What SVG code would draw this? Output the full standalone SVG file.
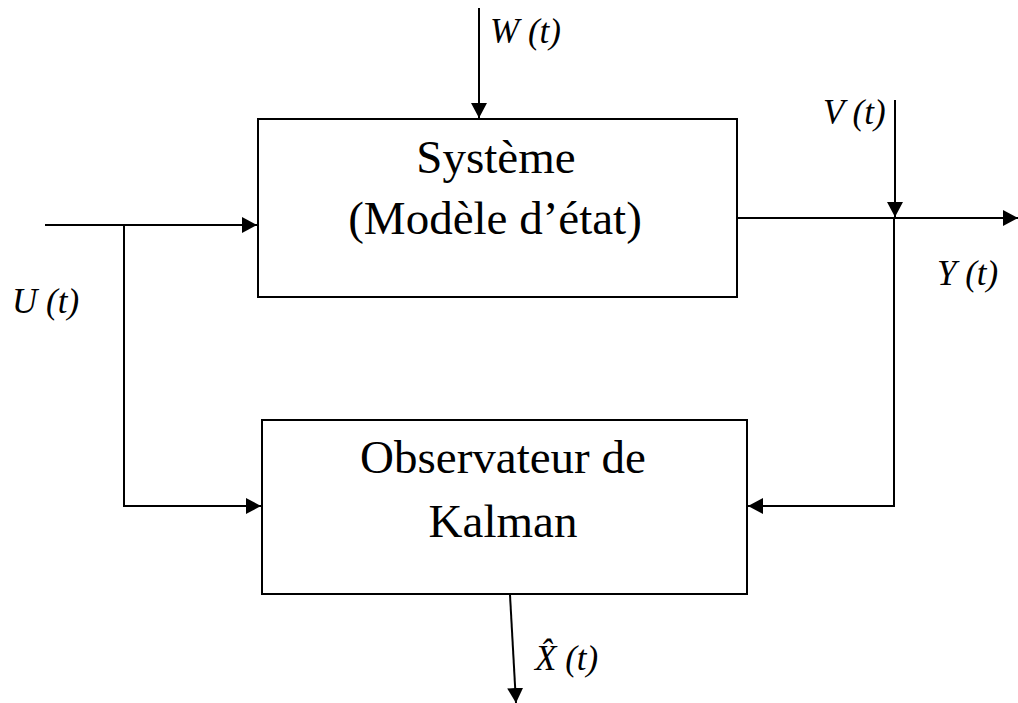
<svg xmlns="http://www.w3.org/2000/svg" width="1018" height="703" viewBox="0 0 1018 703">
<style>
.box{fill:#fff;stroke:#000;stroke-width:2}
.ln{fill:none;stroke:#000;stroke-width:2}
.bt{font-family:"Liberation Serif","Times New Roman",serif;font-size:47px;fill:#000;text-anchor:middle}
.lb{font-family:"Liberation Serif","Times New Roman",serif;font-size:35px;font-style:italic;fill:#000}
</style>
<defs>
<marker id="ah" markerUnits="userSpaceOnUse" markerWidth="16" markerHeight="16" refX="15" refY="8" orient="auto">
<path d="M0,0 L15,8 L0,16 z" fill="#000"/>
</marker>
</defs>
<rect width="1018" height="703" fill="#fff"/>
<g id="connectors">
<line class="ln" x1="479" y1="8" x2="479" y2="118" marker-end="url(#ah)"/>
<line class="ln" x1="895" y1="100" x2="895" y2="217" marker-end="url(#ah)"/>
<line class="ln" x1="738" y1="218" x2="1018" y2="218" marker-end="url(#ah)"/>
<polyline class="ln" points="894,218 894,506 748,506" marker-end="url(#ah)"/>
<line class="ln" x1="45" y1="225" x2="257" y2="225" marker-end="url(#ah)"/>
<polyline class="ln" points="124,225 124,506 261,506" marker-end="url(#ah)"/>
<line class="ln" x1="510" y1="595" x2="516" y2="703" marker-end="url(#ah)"/>
</g>
<g id="systeme">
<rect class="box" x="258" y="119" width="479" height="178"/>
<text class="bt" x="496" y="173">Système</text>
<text class="bt" x="495" y="234">(Modèle d’état)</text>
</g>
<g id="observateur">
<rect class="box" x="262" y="420" width="485" height="174"/>
<text class="bt" x="503" y="473">Observateur de</text>
<text class="bt" x="503" y="537">Kalman</text>
</g>
<g id="labels">
<text class="lb" x="490" y="43">W (t)</text>
<text class="lb" x="823" y="124">V (t)</text>
<text class="lb" x="937" y="285">Y (t)</text>
<text class="lb" x="12" y="313">U (t)</text>
<text class="lb" x="535" y="670">X̂ (t)</text>
</g>
</svg>
